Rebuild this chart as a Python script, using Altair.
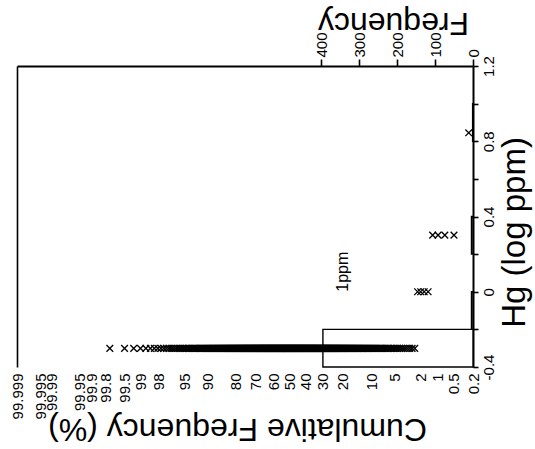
from statistics import NormalDist

import altair as alt
import pandas as pd

# Hg sample values (log ppm) and the number of samples at each value
hg_levels = [0.845, 0.301, 0.0, -0.301]
hg_counts = [1, 4, 4, 395]

# probability-axis ticks (cumulative frequency, %)
cf_ticks = [99.999, 99.995, 99.99, 99.95, 99.9, 99.8, 99.5, 99, 98, 95, 90,
            80, 70, 60, 50, 40, 30, 20, 10, 5, 2, 1, 0.5, 0.2]
cf_tick_labels = ["99.999", "99.995", "99.99", "99.95", "99.9", "99.8", "99.5",
                  "99", "98", "95", "90", "80", "70", "60", "50", "40", "30",
                  "20", "10", "5", "2", "1", "0.5", "0.2"]

hg_ticks = [-0.4, -0.2, 0.0, 0.2, 0.4, 0.6, 0.8, 1.0, 1.2]
hg_tick_labels = ["-0.4", "", "0", "", "0.4", "", "0.8", "", "1.2"]

freq_ticks = [0, 100, 200, 300, 400]
bin_edges = [-0.4, -0.2, 0.0, 0.2, 0.4, 0.6, 0.8, 1.0, 1.2]

marker_note = "1ppm"
marker_note_cf = 20.0
marker_note_hg = 0.0

FONT = "Liberation Sans"
nd = NormalDist()


def probit(pct):
    return nd.inv_cdf(pct / 100.0)


def label_expr(vals, labels):
    pairs = sorted(zip(vals, labels))
    expr = repr(pairs[-1][1])
    for i in range(len(pairs) - 2, -1, -1):
        mid = (pairs[i][0] + pairs[i + 1][0]) / 2
        expr = f"datum.value < {mid} ? {pairs[i][1]!r} : ({expr})"
    return expr


# samples ranked from highest to lowest -> exceedance plotting positions
samples = []
for v, c in zip(hg_levels, hg_counts):
    samples += [v] * c
samples.sort(reverse=True)
n = len(samples)
pts = pd.DataFrame({
    "hg": samples,
    "cf": [100.0 * (i + 1) / (n + 1) for i in range(n)],
})
pts["z"] = pts["cf"].map(probit)

# frequency histogram on (lo, hi] bins
rows = []
for lo, hi in zip(bin_edges[:-1], bin_edges[1:]):
    cnt = sum(c for v, c in zip(hg_levels, hg_counts) if lo < v <= hi)
    if cnt:
        rows.append({"lo": lo, "hi": hi, "count": cnt})
hist = pd.DataFrame(rows)

note = pd.DataFrame({"z": [probit(marker_note_cf)], "hg": [marker_note_hg],
                     "label": [marker_note]})

z_dom = [probit(min(cf_ticks)), probit(max(cf_ticks))]
cf_z = [probit(t) for t in cf_ticks]

y_scale = alt.Scale(domain=[-0.4, 1.2], nice=False, zero=False)
cf_scale = alt.Scale(domain=z_dom, reverse=True, nice=False, zero=False)

hist_layer = alt.Chart(hist).mark_rect(
    fill="white", stroke="black", strokeWidth=1.4
).encode(
    x=alt.X("count:Q",
            scale=alt.Scale(domain=[0, 1200], reverse=True, nice=False),
            axis=alt.Axis(orient="top", values=freq_ticks, labelAngle=270,
                          tickSize=7, tickWidth=1.6, domainWidth=2,
                          labelPadding=2, labelFontSize=15, grid=False,
                          title="Frequency", titleAngle=180, titleFontSize=32,
                          titleX=376, titleY=-44, titleAlign="center",
                          titleBaseline="middle")),
    x2=alt.datum(0),
    y=alt.Y("lo:Q", scale=y_scale,
            axis=alt.Axis(orient="right", values=hg_ticks,
                          labelExpr=label_expr(hg_ticks, hg_tick_labels),
                          labelAngle=270, labelAlign="center",
                          labelBaseline="top", tickSize=5, tickWidth=1.6,
                          domainWidth=2, labelPadding=3, labelFontSize=15,
                          grid=False, labelFlush=False,
                          title="Hg (log ppm)", titleAngle=270,
                          titleFontSize=33, titleX=41, titleY=166,
                          titleAlign="center", titleBaseline="middle")),
    y2="hi:Q",
)

point_layer = alt.Chart(pts).mark_point(
    shape="M-1,-1L1,1M-1,1L1,-1", size=45, color="black",
    strokeWidth=1.3, filled=False, opacity=1
).encode(
    x=alt.X("z:Q", scale=cf_scale,
            axis=alt.Axis(orient="bottom", values=cf_z,
                          labelExpr=label_expr(cf_z, cf_tick_labels),
                          labelAngle=270, ticks=False, domain=False,
                          grid=False, labelPadding=6, labelFontSize=15,
                          labelOverlap=False, labelFlush=False,
                          labelBound=False,
                          title="Cumulative Frequency (%)", titleAngle=180,
                          titleFontSize=32, titleX=220, titleY=61,
                          titleAlign="center", titleBaseline="middle")),
    y=alt.Y("hg:Q", scale=y_scale,
            axis=alt.Axis(orient="left", labels=False, ticks=False,
                          grid=False, title=None, domainWidth=1.6)),
)

note_layer = alt.Chart(note).mark_text(
    angle=270, align="left", baseline="middle", fontSize=16, font=FONT,
    color="black"
).encode(
    x=alt.X("z:Q", scale=cf_scale, axis=None),
    y=alt.Y("hg:Q", scale=y_scale, axis=None),
    text="label:N",
)

chart = alt.layer(hist_layer, point_layer, note_layer).resolve_scale(
    x="independent"
).resolve_axis(
    y="independent"
).properties(
    width=456, height=301,
    autosize=alt.AutoSizeParams(type="none"),
    padding={"left": 17, "top": 66, "right": 62, "bottom": 82},
    background="white",
).configure_view(
    strokeWidth=0
).configure_axis(
    labelFont=FONT, titleFont=FONT, labelColor="black", titleColor="black",
    domainColor="black", tickColor="black", titleFontWeight="normal",
)

chart.save("out.html", embed_options={"renderer": "svg", "actions": False})
